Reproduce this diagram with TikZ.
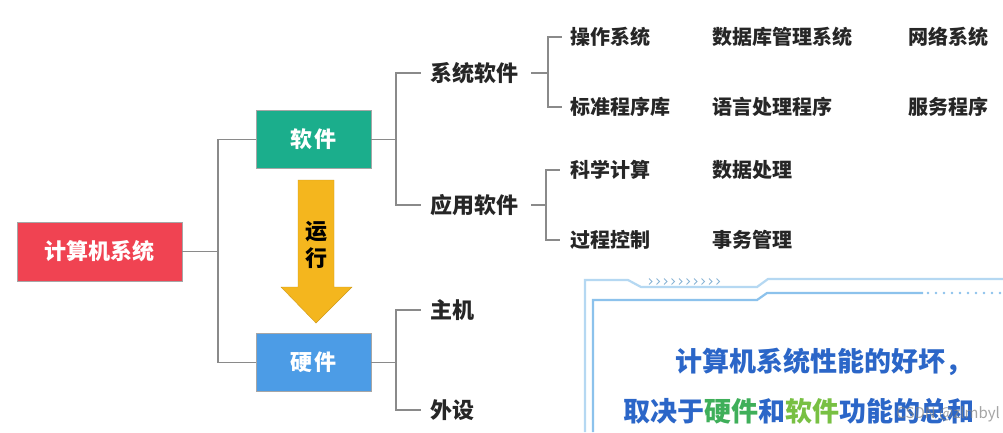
\documentclass[tikz,border=0pt]{standalone}
\usepackage{fontspec}
\setmainfont{Noto Sans CJK SC}
\definecolor{rootred}{HTML}{F04352}
\definecolor{swteal}{HTML}{1BAE8C}
\definecolor{hwblue}{HTML}{4C9CE6}
\definecolor{arrowyel}{HTML}{F4B61E}
\definecolor{linegray}{HTML}{8A8A8A}
\definecolor{txtdark}{HTML}{262626}
\definecolor{panelblue}{HTML}{8CC2EC}
\definecolor{panelouter}{HTML}{B5D8F2}
\definecolor{msgblue}{HTML}{2B66C8}
\definecolor{msggreen}{HTML}{3FAF5A}
\definecolor{msglime}{HTML}{78C043}
\tikzset{
  box/.style={minimum width=115pt, minimum height=58pt, inner sep=0pt, text=white,
    font=\bfseries\fontsize{22}{24}\selectfont, draw=black!35, line width=0.8pt},
  lbl/.style={anchor=west, inner xsep=0pt, inner ysep=2pt, text=txtdark,
    font=\bfseries\fontsize{22}{24}\selectfont},
  leaf/.style={anchor=west, inner xsep=0pt, inner ysep=2pt, text=txtdark,
    font=\bfseries\fontsize{20}{22}\selectfont},
  conn/.style={draw=linegray, line width=1.8pt},
  msg/.style={text=msgblue, font=\bfseries\fontsize{27}{30}\selectfont, inner sep=0pt}
}
\begin{document}
\begin{tikzpicture}[x=1pt,y=-1pt]
\useasboundingbox (0,0) rectangle (1003,432);
\fill[white] (0,0) rectangle (1003,432);

% main boxes
\node[box, fill=rootred, minimum width=165pt, minimum height=59pt] (root) at (99.5,251.5) {计算机系统};
\node[box, fill=swteal] (sw) at (313.5,139.5) {软\hspace{3pt}件};
\node[box, fill=hwblue] (hw) at (313.5,362.5) {硬\hspace{3pt}件};

% run arrow
\fill[arrowyel, draw=arrowyel!85!black, line width=0.4pt]
  (298,180) -- (334,180) -- (334,287) -- (352,287) -- (316,323) -- (281,287) -- (298,287) -- cycle;
\node[font=\bfseries\fontsize{22}{24}\selectfont, text=black, inner sep=0pt] (run1) at (316.5,232) {运};
\node[font=\bfseries\fontsize{22}{24}\selectfont, text=black, inner sep=0pt] (run2) at (316.5,258) {行};

% level 1 junction
\coordinate (j1) at (218,251.5);
\draw[conn] (root.east) -- (j1);
\draw[conn] (j1) |- (sw.west);
\draw[conn] (j1) |- (hw.west);

% software branch
\node[lbl] (xt) at (430,73) {系统软件};
\node[lbl] (yy) at (430,205) {应用软件};
\coordinate (j2) at (396,139.5);
\coordinate (e2a) at (421,73);
\coordinate (e2b) at (421,205);
\draw[conn] (sw.east) -- (j2);
\draw[conn] (j2) |- (e2a);
\draw[conn] (j2) |- (e2b);

% hardware branch
\node[lbl] (zj) at (430,310) {主机};
\node[lbl] (ws) at (430,410) {外设};
\coordinate (j3) at (396,362.5);
\coordinate (e3a) at (421,310);
\coordinate (e3b) at (421,410);
\draw[conn] (hw.east) -- (j3);
\draw[conn] (j3) |- (e3a);
\draw[conn] (j3) |- (e3b);

% system software leaves
\node[leaf] (czxt) at (570,37) {操作系统};
\node[leaf] (sjk) at (712,37) {数据库管理系统};
\node[leaf] (wl) at (908,37) {网络系统};
\node[leaf] (bz) at (570,107) {标准程序库};
\node[leaf] (yy2) at (712,107) {语言处理程序};
\node[leaf] (fw) at (908,107) {服务程序};
\coordinate (j4) at (548,73);
\coordinate (e4a) at (562,37);
\coordinate (e4b) at (562,107);
\draw[conn] ([xshift=13pt]xt.east) -- (j4);
\draw[conn] (j4) |- (e4a);
\draw[conn] (j4) |- (e4b);

% application software leaves
\node[leaf] (kx) at (570,170) {科学计算};
\node[leaf] (sj) at (712,170) {数据处理};
\node[leaf] (gc) at (570,240) {过程控制};
\node[leaf] (sw2) at (712,240) {事务管理};
\coordinate (j5) at (546,205);
\coordinate (e5a) at (560,170);
\coordinate (e5b) at (560,240);
\draw[conn] ([xshift=13pt]yy.east) -- (j5);
\draw[conn] (j5) |- (e5a);
\draw[conn] (j5) |- (e5b);

% message panel
\draw[panelouter, line width=2.2pt] (585,432) -- (585,280) -- (628,280) -- (641,287) -- (757,287) -- (768,279) -- (1003,279);
\draw[panelblue, line width=2.2pt] (593,432) -- (593,300) -- (757,300) -- (767,293) -- (923,293);
\foreach \x in {928,936,...,1000} \fill[panelblue] (\x,293) circle (1.4pt);
\foreach \x in {649,656.5,...,722} \draw[panelblue!80!gray, line width=1pt] (\x,278.5) -- (\x+3,281.5) -- (\x,284.5);

\node[msg, anchor=west] (m1) at (675,362) {计算机系统性能的好坏，};
\node[msg, anchor=west] (m2) at (623,411) {取决于\textcolor{msggreen}{硬件}和\textcolor{msglime}{软件}功能的总和};
\node[font=\fontsize{15}{17}\selectfont, text=gray, opacity=0.7, anchor=east, inner sep=0pt] (wm) at (1000,414) {CSDN @zlmbyl};
\end{tikzpicture}
\end{document}
